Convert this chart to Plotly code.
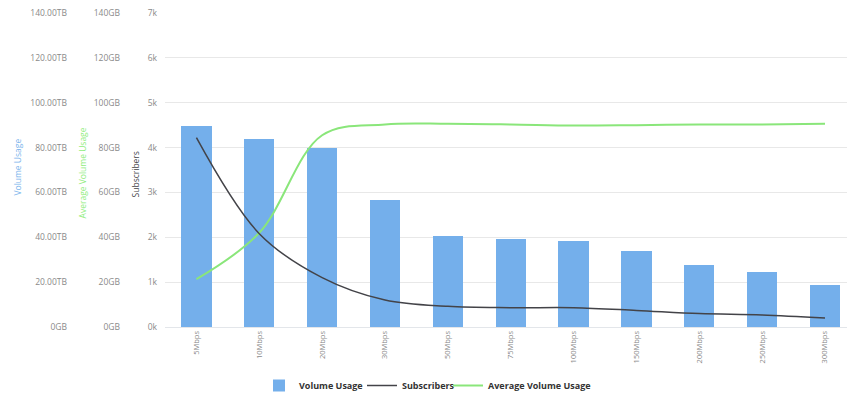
import plotly.graph_objects as go

W, H = 847, 400

categories = ["5Mbps", "10Mbps", "20Mbps", "30Mbps", "50Mbps", "75Mbps",
              "100Mbps", "150Mbps", "200Mbps", "250Mbps", "300Mbps"]
volume_usage_tb = [89.7, 83.7, 79.6, 56.6, 40.4, 39.2, 38.5, 33.7, 27.5, 24.7, 18.7]
subscribers = [4220, 2080, 1100, 600, 460, 430, 430, 370, 300, 270, 200]
avg_volume_gb = [21.3, 42.0, 85.5, 90.3, 90.6, 90.3, 89.8, 90.0, 90.3, 90.3, 90.6]

tb_ticks = [0, 20, 40, 60, 80, 100, 120, 140]
tb_labels = ["0GB", "20.00TB", "40.00TB", "60.00TB", "80.00TB", "100.00TB", "120.00TB", "140.00TB"]
gb_ticks = [0, 20, 40, 60, 80, 100, 120, 140]
gb_labels = ["0GB", "20GB", "40GB", "60GB", "80GB", "100GB", "120GB", "140GB"]
sub_ticks = [0, 1000, 2000, 3000, 4000, 5000, 6000, 7000]
sub_labels = ["0k", "1k", "2k", "3k", "4k", "5k", "6k", "7k"]

BLUE = "#74afeb"
DARK = "#434348"
GREEN = "#8ae67a"
FONT = "Open Sans, DejaVu Sans, sans-serif"
TICKCOL = "#8a8a8a"

M_T, M_B = 13, 68
plot_h = H - M_T - M_B


def py(p):
    return (H - M_B - p) / plot_h


x_idx = list(range(len(categories)))

fig = go.Figure()
fig.add_trace(go.Bar(x=x_idx, y=volume_usage_tb, name="Volume Usage",
                     marker=dict(color=BLUE, line=dict(width=0)), width=0.48,
                     yaxis="y", legend="legend"))
fig.add_trace(go.Scatter(x=x_idx, y=subscribers, name="Subscribers", mode="lines",
                         line=dict(color=DARK, width=1.5, shape="spline", smoothing=1.0),
                         yaxis="y3", legend="legend2"))
fig.add_trace(go.Scatter(x=x_idx, y=avg_volume_gb, name="Average Volume Usage", mode="lines",
                         line=dict(color=GREEN, width=2, shape="spline", smoothing=1.0),
                         yaxis="y2", legend="legend3"))

axis_common = dict(showline=False, zeroline=False, ticks="", fixedrange=True,
                   tickfont=dict(size=8.5, color=TICKCOL, family=FONT))


def leg(xpx):
    return dict(orientation="h", x=xpx / W, xanchor="left", y=py(392), yanchor="middle",
                font=dict(size=9, color="#333333", family=FONT, weight="bold"),
                bgcolor="rgba(0,0,0,0)", itemwidth=30)


fig.update_layout(
    width=W, height=H,
    margin=dict(l=0, r=0, t=M_T, b=M_B),
    paper_bgcolor="white", plot_bgcolor="white",
    font=dict(family=FONT),
    bargap=0,
    xaxis=dict(domain=[165 / W, 1], range=[-0.5, 10.35],
               tickvals=x_idx, ticktext=categories, tickangle=-90,
               tickfont=dict(size=7.5, color=TICKCOL, family=FONT),
               showgrid=False, zeroline=False, showline=True, linecolor="#e3e6ea",
               linewidth=1, ticks=""),
    yaxis=dict(range=[0, 140], tickvals=tb_ticks, ticktext=tb_labels,
               anchor="free", position=67 / W, showgrid=True, gridcolor="#e8e8e8",
               gridwidth=1, **axis_common),
    yaxis2=dict(range=[0, 140], tickvals=gb_ticks, ticktext=gb_labels,
                anchor="free", position=120 / W, overlaying="y", side="left",
                showgrid=False, **axis_common),
    yaxis3=dict(range=[0, 7000], tickvals=sub_ticks, ticktext=sub_labels,
                anchor="free", position=157 / W, overlaying="y", side="left",
                showgrid=False, **axis_common),
    legend=leg(259),
    legend2=leg(362),
    legend3=leg(448),
    showlegend=True,
)

titles = [("Volume Usage", 18, 170, "#7cb5ec"),
          ("Average Volume Usage", 82, 176, "#90ed7d"),
          ("Subscribers", 135, 177, DARK)]
for text, px, pyy, col in titles:
    fig.add_annotation(text=text, x=px / W, y=py(pyy), xref="paper", yref="paper",
                       textangle=-90, showarrow=False, xanchor="center", yanchor="middle",
                       font=dict(size=8.5, color=col, family=FONT))

fig.write_html("out.html")
